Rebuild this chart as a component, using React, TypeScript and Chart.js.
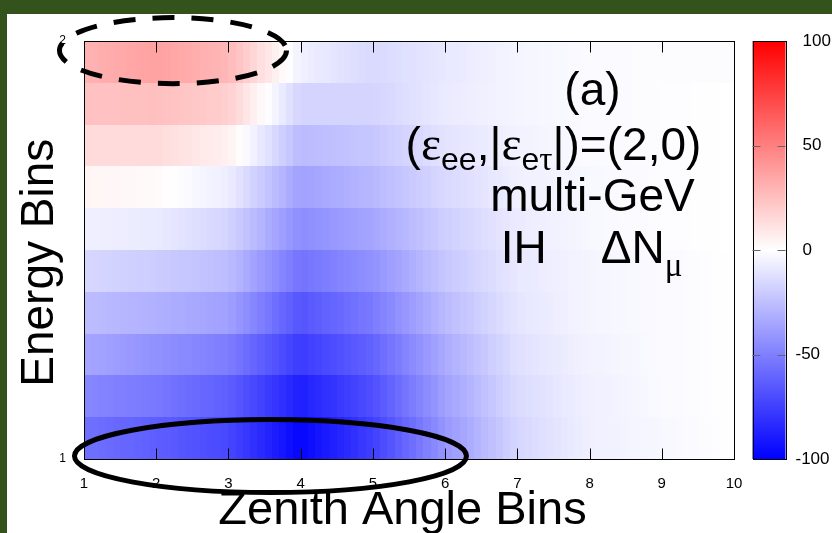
import React, { useEffect, useRef } from 'react';
import { Chart, registerables } from 'chart.js';

Chart.register(...registerables);

// ---- axes ----
const zenithBins = [1, 2, 3, 4, 5, 6, 7, 8, 9, 10];
const energyEdges = [1.0, 1.1, 1.2, 1.3, 1.4, 1.5, 1.6, 1.7, 1.8, 1.9, 2.0];
const xTicks = [1, 2, 3, 4, 5, 6, 7, 8, 9, 10];
const yTicks = [1, 2];
const cbTicks = [100, 50, 0, -50, -100];

// ---- ΔN_μ (%) per energy row (lowest energy first), at zenith bins 1..10 ----
const row1 = [-56, -63, -72, -98, -75, -41, -16, -6, -3, 0];
const row2 = [-47, -53, -63, -88, -69, -37, -14, -6, -2, 0];
const row3 = [-35, -43, -51, -77, -61, -33, -12, -5, -2, 0];
const row4 = [-26, -31, -37, -67, -52, -27, -10, -4, -2, 0];
const row5 = [-16, -20, -26, -55, -43, -22, -9, -4, -2, 0];
const row6 = [-6, -8, -17, -45, -35, -19, -8, -3, -1, 0];
const row7 = [4, 2, -7, -37, -28, -15, -6, -3, -1, 0];
const row8 = [14, 14, 6, -27, -22, -11, -5, -2, -1, 0];
const row9 = [24, 25, 19, -17, -17, -8, -4, -2, -1, 0];
const row10 = [30, 37, 28, -6, -15, -9, -4, -2, -1, -1];
const energyRows = [row1, row2, row3, row4, row5, row6, row7, row8, row9, row10];

// ---- annotations (data coordinates) ----
const labelX = [8.04, 7.5, 8.04, 8.027];
const labelY = [1.8469, 1.7153, 1.5933, 1.4689];
const ellipseCx = [2.232, 3.582];
const ellipseCy = [1.977, 1.007];
const ellipseRx = [1.572, 2.714];
const ellipseRy = [0.079, 0.0873];
const ellipseDashed = [true, false];

const SANS = '"Liberation Sans", Arial, Helvetica, sans-serif';
const SERIF = '"Liberation Serif", "Times New Roman", serif';
const SUBDIV = 10;

function colorOf(v: number): string {
  const c = Math.max(-100, Math.min(100, v));
  if (c >= 0) {
    const g = Math.round(255 * (1 - c / 100));
    return `rgb(255,${g},${g})`;
  }
  const r = Math.round(255 * (1 + c / 100));
  return `rgb(${r},${r},255)`;
}

type Seg = { t: string; f: string; dy?: number; w?: number };

function drawRich(ctx: CanvasRenderingContext2D, segs: Seg[], cx: number, by: number) {
  const widths = segs.map((s) => {
    if (s.w != null) return s.w;
    ctx.font = s.f;
    return ctx.measureText(s.t).width;
  });
  const total = widths.reduce((a, b) => a + b, 0);
  let x = cx - total / 2;
  ctx.textAlign = 'left';
  ctx.textBaseline = 'alphabetic';
  ctx.fillStyle = '#000';
  segs.forEach((s, i) => {
    if (s.t) {
      ctx.font = s.f;
      ctx.fillText(s.t, x, by + (s.dy || 0));
    }
    x += widths[i];
  });
}

const heatmapPlugin = {
  id: 'heatmap',
  beforeDatasetsDraw(chart: any) {
    const { ctx, scales } = chart;
    const xs = scales.x;
    const ys = scales.y;
    ctx.save();
    energyRows.forEach((row, r) => {
      const yTop = Math.round(ys.getPixelForValue(energyEdges[r + 1]));
      const yBot = Math.round(ys.getPixelForValue(energyEdges[r]));
      for (let j = 0; j < zenithBins.length - 1; j++) {
        const x0 = zenithBins[j];
        const x1 = zenithBins[j + 1];
        for (let s = 0; s < SUBDIV; s++) {
          const a = Math.round(xs.getPixelForValue(x0 + ((x1 - x0) * s) / SUBDIV));
          const b = Math.round(xs.getPixelForValue(x0 + ((x1 - x0) * (s + 1)) / SUBDIV));
          const v = row[j] + ((row[j + 1] - row[j]) * (s + 0.5)) / SUBDIV;
          ctx.fillStyle = colorOf(v);
          ctx.fillRect(a, yTop, b - a, yBot - yTop);
        }
      }
    });
    ctx.restore();
  },
  afterDraw(chart: any) {
    const { ctx, scales, chartArea } = chart;
    const xs = scales.x;
    const ys = scales.y;
    const cb = scales.cb;
    ctx.save();

    // plot frame and inward ticks
    const L = Math.round(chartArea.left) + 0.5;
    const R = Math.round(chartArea.right) + 0.5;
    const T = Math.round(chartArea.top) + 0.5;
    const B = Math.round(chartArea.bottom) + 0.5;
    ctx.strokeStyle = '#000';
    ctx.lineWidth = 1;
    ctx.strokeRect(L, T, R - L, B - T);
    ctx.beginPath();
    xTicks.forEach((v) => {
      if (v === xs.min || v === xs.max) return;
      const px = Math.round(xs.getPixelForValue(v)) + 0.5;
      ctx.moveTo(px, B);
      ctx.lineTo(px, B - 11);
      ctx.moveTo(px, T);
      ctx.lineTo(px, T + 11);
    });
    ctx.stroke();

    // colour bar
    const cbL = R + 18;
    const cbW = 33;
    const cTop = cb.getPixelForValue(100);
    const cBot = cb.getPixelForValue(-100);
    const grad = ctx.createLinearGradient(0, cBot, 0, cTop);
    grad.addColorStop(0, colorOf(-100));
    grad.addColorStop(0.5, colorOf(0));
    grad.addColorStop(1, colorOf(100));
    ctx.fillStyle = grad;
    ctx.fillRect(cbL, cTop, cbW, cBot - cTop);
    ctx.strokeStyle = '#000';
    ctx.strokeRect(Math.round(cbL) + 0.5, Math.round(cTop) + 0.5, cbW, Math.round(cBot - cTop));
    ctx.strokeStyle = '#666';
    ctx.beginPath();
    cbTicks.forEach((v) => {
      if (v === 100 || v === -100) return;
      const py = Math.round(cb.getPixelForValue(v)) + 0.5;
      ctx.moveTo(cbL, py);
      ctx.lineTo(cbL + 8, py);
      ctx.moveTo(cbL + cbW, py);
      ctx.lineTo(cbL + cbW - 8, py);
    });
    ctx.stroke();
    ctx.fillStyle = '#000';
    ctx.font = `17px ${SANS}`;
    ctx.textBaseline = 'middle';
    ctx.textAlign = 'left';
    cbTicks.forEach((v) => {
      const py = cb.getPixelForValue(v);
      ctx.fillText(String(v), v < 0 ? cbL + cbW + 10 : cbL + cbW + 17, py);
    });

    // ellipses
    ellipseCx.forEach((cxv, i) => {
      const cx = xs.getPixelForValue(cxv);
      const cy = ys.getPixelForValue(ellipseCy[i]);
      const rx = Math.abs(xs.getPixelForValue(cxv + ellipseRx[i]) - cx);
      const ry = Math.abs(ys.getPixelForValue(ellipseCy[i] + ellipseRy[i]) - cy);
      ctx.beginPath();
      ctx.ellipse(cx, cy, rx, ry, 0, 0, Math.PI * 2);
      ctx.strokeStyle = '#000';
      ctx.lineWidth = 5;
      ctx.setLineDash(ellipseDashed[i] ? [22, 17] : []);
      ctx.stroke();
    });
    ctx.setLineDash([]);

    // annotation text
    const big = `46px ${SANS}`;
    const bigG = `48px ${SERIF}`;
    const sub = `32px ${SANS}`;
    const subG = `33px ${SERIF}`;
    const lines: Seg[][] = [
      [{ t: '(a)', f: big }],
      [
        { t: '(', f: big },
        { t: 'ε', f: bigG },
        { t: 'ee', f: sub, dy: 10 },
        { t: ',', f: big },
        { t: '|', f: big },
        { t: 'ε', f: bigG },
        { t: 'e', f: sub, dy: 10 },
        { t: 'τ', f: subG, dy: 10 },
        { t: '|', f: big },
        { t: ')=(2,0)', f: big },
      ],
      [{ t: 'multi-GeV', f: big }],
      [
        { t: 'IH', f: big },
        { t: '', f: big, w: 54 },
        { t: 'ΔN', f: big },
        { t: 'μ', f: subG, dy: 13 },
      ],
    ];
    lines.forEach((segs, i) => {
      drawRich(ctx, segs, xs.getPixelForValue(labelX[i]), ys.getPixelForValue(labelY[i]));
    });
    ctx.restore();
  },
};

export default function App() {
  const ref = useRef<HTMLCanvasElement | null>(null);
  useEffect(() => {
    if (!ref.current) return;
    const chart = new Chart(ref.current, {
      type: 'scatter',
      data: { datasets: [{ data: [] }] },
      options: {
        animation: false,
        responsive: false,
        maintainAspectRatio: false,
        events: [],
        layout: { padding: { top: 27, left: 0, right: 0, bottom: 0 } },
        plugins: {
          legend: { display: false },
          tooltip: { enabled: false },
          title: { display: false },
        },
        scales: {
          x: {
            type: 'linear',
            position: 'bottom',
            min: 1,
            max: 10,
            afterBuildTicks: (s: any) => {
              s.ticks = xTicks.map((v) => ({ value: v }));
            },
            grid: { display: false, drawTicks: false },
            border: { display: false },
            ticks: {
              color: '#000',
              padding: 16,
              maxRotation: 0,
              autoSkip: false,
              font: { family: SANS, size: 15 },
            },
            title: {
              display: true,
              text: 'Zenith Angle Bins ',
              color: '#000',
              font: { family: SANS, size: 47, lineHeight: 1.2 },
              padding: { top: 0, bottom: -6 },
            },
            afterFit: (s: any) => {
              s.height = 74;
            },
          },
          y: {
            type: 'linear',
            position: 'left',
            min: 1,
            max: 2,
            afterBuildTicks: (s: any) => {
              s.ticks = yTicks.map((v) => ({ value: v }));
            },
            grid: { display: false, drawTicks: false },
            border: { display: false },
            ticks: {
              color: '#000',
              padding: 18,
              autoSkip: false,
              font: { family: SANS, size: 12 },
            },
            title: {
              display: true,
              text: 'Energy Bins  ',
              color: '#000',
              font: { family: SANS, size: 46, lineHeight: 1.2 },
              padding: { top: 6, bottom: 0 },
            },
            afterFit: (s: any) => {
              s.width = 77;
            },
          },
          cb: {
            type: 'linear',
            position: 'right',
            min: -100,
            max: 100,
            grid: { display: false, drawTicks: false },
            border: { display: false },
            ticks: { display: false },
            afterFit: (s: any) => {
              s.width = 98;
            },
          },
        },
      } as any,
      plugins: [heatmapPlugin],
    });
    return () => chart.destroy();
  }, []);

  return (
    <div
      style={{
        position: 'fixed',
        left: 0,
        top: 0,
        width: 832,
        height: 533,
        background: '#34521b',
        overflow: 'hidden',
      }}
    >
      <div style={{ position: 'absolute', left: 7, top: 14, width: 825, height: 519, background: '#fff' }}>
        <canvas ref={ref} width={825} height={519} style={{ display: 'block', width: 825, height: 519 }} />
      </div>
    </div>
  );
}
